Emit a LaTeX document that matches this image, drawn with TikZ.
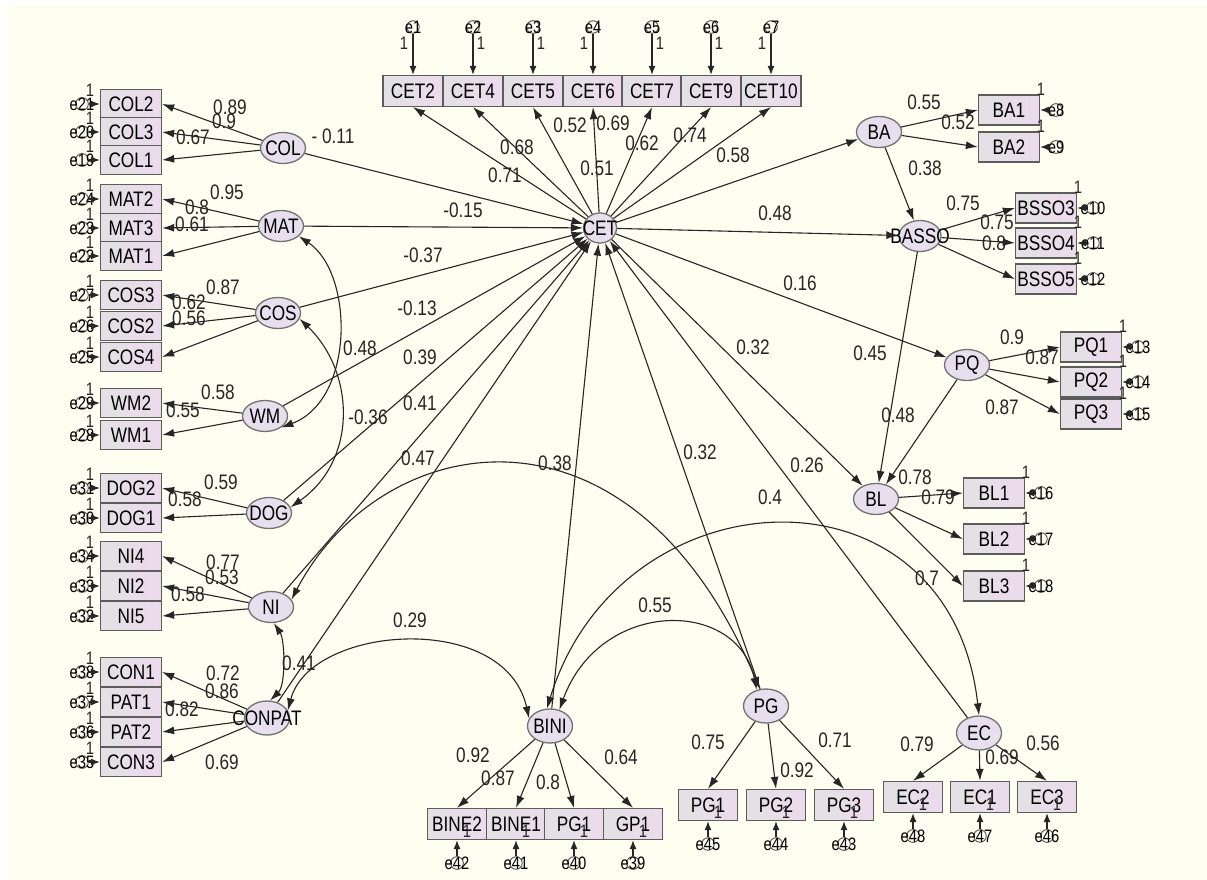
\documentclass[tikz,border=0pt]{standalone}
\usepackage{fontspec}
\usetikzlibrary{arrows.meta,shapes.geometric}
\newfontfamily\amosfont[FakeStretch=0.82]{Liberation Sans}

\definecolor{paper}{RGB}{254,254,241}
\definecolor{boxgray}{RGB}{226,226,228}
\definecolor{boxpink}{RGB}{236,218,236}
\definecolor{latfill}{RGB}{232,223,238}
\definecolor{ink}{RGB}{38,38,38}

\tikzset{
  obs/.style={draw=ink!75, line width=1.3pt, left color=boxgray, right color=boxpink,
    minimum width=60pt, minimum height=30pt, inner sep=0pt},
  lat/.style={ellipse, draw=ink!65, line width=1.3pt, fill=latfill,
    minimum width=45pt, minimum height=31pt, inner sep=0pt},
  err/.style={circle, draw=ink!80, line width=0.9pt, minimum size=12pt, inner sep=0pt,
    font=\amosfont\fontsize{18}{18}\selectfont},
  ld/.style={draw=ink, line width=1.1pt, -{Latex[length=12pt,width=8pt]}},
  eld/.style={draw=ink, line width=1.1pt, -{Latex[length=9pt,width=7pt]}},
  cov/.style={draw=ink, line width=1.1pt, {Latex[length=12pt,width=8pt]}-{Latex[length=12pt,width=8pt]}},
  val/.style={inner sep=0pt, text=ink},
  one/.style={inner sep=0pt, text=ink, font=\amosfont\fontsize{18}{18}\selectfont},
}

\begin{document}
\begin{tikzpicture}[x=1pt, y=-1pt, font=\amosfont\fontsize{21}{21}\selectfont]
  \useasboundingbox (0,0) rectangle (1207,880);
  \fill[white] (0,0) rectangle (1207,880);
  \fill[paper] (7,5) rectangle (1207,880);

  % latent variables
  \node[lat, minimum width=33pt, minimum height=30pt] (CET) at (600,228) {\makebox[0pt]{CET}};
  \node[lat] (COL) at (283,148) {\makebox[0pt]{COL}};
  \node[lat] (MAT) at (281,226) {\makebox[0pt]{MAT}};
  \node[lat] (COS) at (278,313) {\makebox[0pt]{COS}};
  \node[lat] (WM) at (265,416) {\makebox[0pt]{WM}};
  \node[lat] (DOG) at (269,513) {\makebox[0pt]{DOG}};
  \node[lat] (NI) at (271,607) {\makebox[0pt]{NI}};
  \node[lat, minimum height=34pt] (CONPAT) at (267,718) {\makebox[0pt]{CONPAT}};
  \node[lat] (BA) at (879,132) {\makebox[0pt]{BA}};
  \node[lat, minimum width=42pt] (BASSO) at (920,236) {\makebox[0pt]{BASSO}};
  \node[lat] (PQ) at (967,365) {\makebox[0pt]{PQ}};
  \node[lat] (BL) at (876,499) {\makebox[0pt]{BL}};
  \node[lat, minimum height=34pt] (BINI) at (550,726) {\makebox[0pt]{BINI}};
  \node[lat, minimum height=34pt] (PG) at (766,706) {\makebox[0pt]{PG}};
  \node[lat, minimum height=34pt] (EC) at (979,733) {\makebox[0pt]{EC}};

  % CET items
  \foreach \n/\x/\e/\s in {CET2/413/1/-9, CET4/473/2/8, CET5/533/3/8, CET6/593/4/-9,
      CET7/652/5/8, CET9/711/6/8, CET10/771/7/-9} {
    \node[obs, minimum height=31pt] (\n) at (\x,91) {\n};
    \node[err] (e\e) at (\x,27) {\makebox[0pt]{e\e}};
    \draw[eld] (e\e) -- (\n.north);
    \node[one] (one\e) at (\x+\s,43) {1};
    \draw[ld] (CET) -- (\n.south);
  }

  % left items
  \foreach \l/\n/\y/\e in {COL/COL2/104/21, COL/COL3/132/20, COL/COL1/160/19,
      MAT/MAT2/199/24, MAT/MAT3/228/23, MAT/MAT1/256/22,
      COS/COS3/295/27, COS/COS2/326/26, COS/COS4/357/25,
      WM/WM2/403/29, WM/WM1/435/28, DOG/DOG2/488/31, DOG/DOG1/518/30,
      NI/NI4/556/34, NI/NI2/586/33, NI/NI5/616/32,
      CONPAT/CON1/672/38, CONPAT/PAT1/702/37, CONPAT/PAT2/732/36, CONPAT/CON3/762/35} {
    \node[obs, minimum width=61pt, minimum height=29pt] (\n) at (131,\y) {\n};
    \node[err] (e\e) at (82,\y) {\makebox[0pt]{e\e}};
    \draw[eld] (e\e) -- (\n.west);
    \node[one] (one\e) at (90,\y-14) {1};
    \draw[ld] (\l) -- (\n.east);
  }

  % right items
  \foreach \l/\n/\x/\y/\e in {BA/BA1/1009/110/8, BA/BA2/1009/147/9,
      BASSO/BSSO3/1046/208/10, BASSO/BSSO4/1046/243/11, BASSO/BSSO5/1046/279/12,
      PQ/PQ1/1091/347/13, PQ/PQ2/1091/382/14, PQ/PQ3/1091/414/15,
      BL/BL1/994/493/16, BL/BL2/994/539/17, BL/BL3/994/586/18} {
    \node[obs, minimum width=61pt] (\n) at (\x,\y) {\n};
    \node[err] (e\e) at (\x+47,\y) {\makebox[0pt]{e\e}};
    \draw[eld] (e\e) -- (\n.east);
    \node[one] (one\e) at (\x+32,\y-21) {1};
    \draw[ld] (\l) -- (\n.west);
  }

  % bottom items
  \foreach \l/\n/\t/\x/\y/\e in {BINI/BINE2/BINE2/457/824/42, BINI/BINE1/BINE1/516/824/41,
      BINI/PGb/PG1/574/824/40, BINI/GP1/GP1/633/824/39,
      PG/PG1/PG1/708/805/45, PG/PG2/PG2/776/805/44, PG/PG3/PG3/844/805/43,
      EC/EC2/EC2/913/797/48, EC/EC1/EC1/980/797/47, EC/EC3/EC3/1047/797/46} {
    \node[obs, minimum width=59pt, minimum height=31pt] (\n) at (\x,\y) {\t};
    \node[err] (e\e) at (\x,\y+39) {\makebox[0pt]{e\e}};
    \draw[eld] (e\e) -- (\n.south);
    \node[one] (one\e) at (\x+10,\y+7) {1};
    \draw[ld] (\l) -- (\n.north);
  }

  % structural paths
  \foreach \s in {COL,MAT,COS,WM,DOG,NI,CONPAT,BINI,PG,EC}
    \draw[ld] (\s) -- (CET);
  \foreach \t in {BA,BASSO,PQ,BL}
    \draw[ld] (CET) -- (\t);
  \draw[ld] (BA) -- (BASSO);
  \draw[ld] (BASSO) -- (BL);
  \draw[ld] (PQ) -- (BL);

  % covariances
  \draw[cov] (MAT.-30) .. controls (354,273) and (355,400) .. (WM.-35);
  \draw[cov] (COS.-15) .. controls (355,372) and (358,460) .. (DOG.15);
  \draw[cov] (NI.-80) .. controls (285,640) and (286,685) .. (CONPAT.80);
  \draw[cov] (NI.20) .. controls (380,430) and (630,380) .. (PG.110);
  \draw[cov] (CONPAT.20) .. controls (310,625) and (505,610) .. (BINI.160);
  \draw[cov] (BINI.60) .. controls (600,598) and (738,598) .. (PG.120);
  \draw[cov] (BINI.100) .. controls (620,470) and (950,455) .. (EC.north);

  % estimates
  \foreach \x/\y/\t [count=\i] in {505/175/0.71, 517/147/0.68, 570/125/0.52, 613/123/0.69,
      597/168/0.51, 642/143/0.62, 690/135/0.74, 733/155/0.58, 463/210/-0.15, 775/213/0.48,
      333/136/- 0.11, 423/255/-0.37, 417/308/-0.13, 360/348/0.48, 420/357/0.39,
      368/417/-0.36, 420/403/0.41, 418/458/0.47, 555/463/0.38, 753/347/0.32,
      700/452/0.32, 770/497/0.4, 299/663/0.41, 410/620/0.29, 655/605/0.55,
      807/465/0.26, 800/283/0.16,
      230/107/0.89, 224/121/0.9, 193/137/0.67, 227/192/0.95, 197/207/0.8, 192/224/0.61,
      223/287/0.87, 189/302/0.62, 189/318/0.56, 218/392/0.58, 183/410/0.55,
      221/482/0.59, 185/499/0.58, 223/562/0.77, 222/577/0.53, 188/594/0.58,
      223/673/0.72, 222/691/0.86, 182/709/0.82, 222/762/0.69,
      924/102/0.55, 958/122/0.52, 925/168/0.38, 963/203/0.75, 997/222/0.75, 994/243/0.8,
      870/353/0.45, 1012/337/0.9, 1042/357/0.87, 1002/407/0.87, 898/415/0.48,
      915/477/0.78, 938/497/0.79, 927/578/0.7, 917/744/0.79, 1002/757/0.69, 1043/743/0.56,
      835/740/0.71, 797/770/0.92, 708/742/0.75,
      473/755/0.92, 498/778/0.87, 548/782/0.8, 621/757/0.64}
    \node[val] (w\i) at (\x,\y) {\t};
\end{tikzpicture}
\end{document}
